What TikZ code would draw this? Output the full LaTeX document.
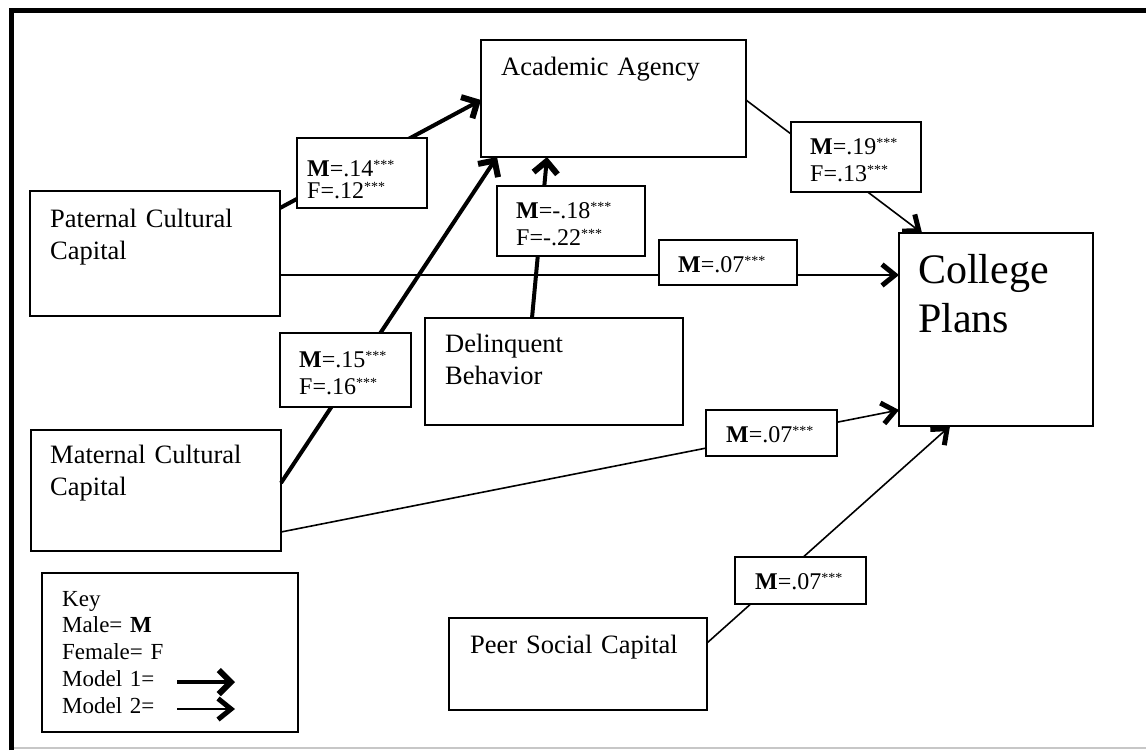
\documentclass[tikz,border=0pt]{standalone}
\usepackage{fontspec}
\setmainfont{Liberation Serif}
\usetikzlibrary{arrows.meta,calc}
\newcommand{\sig}{\raisebox{7pt}{\fontsize{14}{14}\selectfont ***}}

\begin{document}
\begin{tikzpicture}[x=1pt,y=-1pt,
  box/.style={draw,line width=1.5pt,inner sep=0pt,outer sep=0pt,anchor=north west},
  lbl/.style={draw,fill=white,line width=1.5pt,inner sep=0pt,outer sep=0pt,anchor=north west},
  txt/.style={anchor=base west,inner sep=0pt,align=left,text width=240pt,font=\fontsize{26.5}{32}\selectfont},
  ltxt/.style={anchor=base west,inner sep=0pt,align=left,text width=120pt,font=\fontsize{24}{27}\selectfont},
  m1/.style={line width=4pt,-{Straight Barb[length=12pt,width=24pt,line width=6pt]}},
  m2/.style={line width=1.6pt,-{Straight Barb[length=13pt,width=21pt,line width=5pt]}}]
\useasboundingbox (0,0) rectangle (1146,750);

% frame
\draw[line width=1.5pt,black!22] (11,748) -- (1146,748);
\draw[line width=5pt] (11,750) -- (11,10) -- (1146,10);

% boxes
\node[box,minimum width=265,minimum height=117] (aa) at (481,40) {};
\node[box,minimum width=250,minimum height=125] (pat) at (30,191) {};
\node[box,minimum width=258,minimum height=107] (del) at (425,318) {};
\node[box,minimum width=250,minimum height=121] (mat) at (31,430) {};
\node[box,minimum width=194,minimum height=193] (cp) at (899,233) {};
\node[box,minimum width=258,minimum height=92] (peer) at (449,618) {};
\node[box,minimum width=256,minimum height=159] (key) at (42,573) {};

% model 1
\draw[m1] ($(pat.north east)+(0,17)$) -- ($(aa.north west)+(0,60)$);
\draw[m1] ($(mat.north east)+(0,53)$) -- ($(aa.south west)+(16,0)$);
\draw[m1] ($(del.north west)+(107,0)$) -- ($(aa.south west)+(66,0)$);
% model 2
\draw[m2] ($(aa.north east)+(0,60)$) -- ($(cp.north west)+(23,0)$);
\draw[m2] ($(pat.north east)+(0,84)$) -- ($(cp.north west)+(0,42)$);
\draw[m2] ($(mat.north east)+(0,102)$) -- ($(cp.north west)+(0,177)$);
\draw[m2] ($(peer.north east)+(0,25)$) -- ($(cp.south west)+(51,0)$);

% coefficients
\node[lbl,minimum width=130,minimum height=70] (l14) at (297,138) {};
\node[lbl,minimum width=130,minimum height=70] (l19) at (791,122) {};
\node[lbl,minimum width=148,minimum height=70] (l18) at (497,186) {};
\node[lbl,minimum width=131,minimum height=74] (l15) at (280,333) {};
\node[lbl,minimum width=138,minimum height=45] (l07a) at (659,240) {};
\node[lbl,minimum width=131,minimum height=46] (l07b) at (706,410) {};
\node[lbl,minimum width=131,minimum height=47] (l07c) at (735,557) {};

\node[ltxt,font=\fontsize{24}{22.5}\selectfont] (t14) at (307,176) {\textbf{M}=.14\sig\\F=.12\sig};
\node[ltxt] (t19) at (810,154) {\textbf{M}=.19\sig\\F=.13\sig};
\node[ltxt] (t18) at (516,218) {\textbf{M}=-.18\sig\\F=-.22\sig};
\node[ltxt] (t15) at (299,367) {\textbf{M}=.15\sig\\F=.16\sig};
\node[ltxt] (t07a) at (678,272) {\textbf{M}=.07\sig};
\node[ltxt] (t07b) at (726,442) {\textbf{M}=.07\sig};
\node[ltxt] (t07c) at (755,589) {\textbf{M}=.07\sig};

% box texts
\node[txt] (aatxt) at (501,75) {Academic Agency};
\node[txt] (pattxt) at (50,227) {Paternal Cultural\\Capital};
\node[txt] (deltxt) at (445,352) {Delinquent\\Behavior};
\node[txt] (mattxt) at (50,463) {Maternal Cultural\\Capital};
\node[txt,font=\fontsize{42}{49}\selectfont] (cptxt) at (918,283) {College\\Plans};
\node[txt] (peertxt) at (470,653) {Peer Social Capital};

% key
\node[txt,font=\fontsize{23}{26.75}\selectfont] (keytxt) at (62,606)
  {Key\\Male= \textbf{M}\\Female= F\\Model 1=\\Model 2=};
\coordinate (k1a) at (177,682);
\coordinate (k1b) at (235,682);
\coordinate (k2a) at (177,709);
\coordinate (k2b) at (235,709);
\draw[m1] (k1a) -- (k1b);
\draw[m2] (k2a) -- (k2b);

\end{tikzpicture}
\end{document}
